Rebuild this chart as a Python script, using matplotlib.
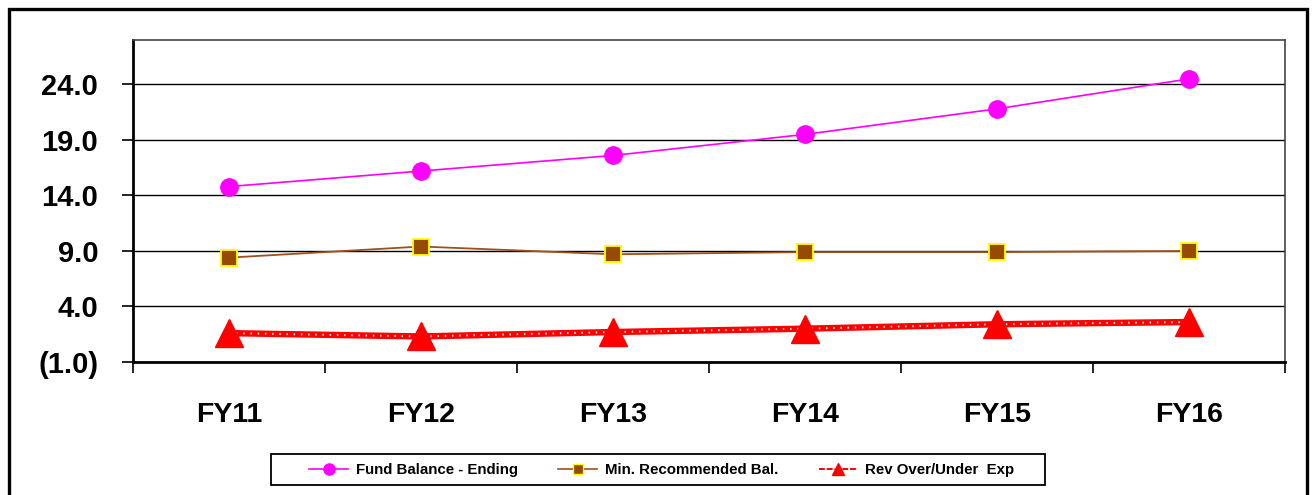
import matplotlib
matplotlib.use("Agg")
import matplotlib.pyplot as plt
from matplotlib.lines import Line2D
from matplotlib.patches import Rectangle
from matplotlib.ticker import FixedLocator, FuncFormatter

plt.rcParams['font.family'] = ['Liberation Sans', 'DejaVu Sans']
plt.rcParams['font.weight'] = 'bold'

# Fiscal years and series (in millions)
years = ["FY11", "FY12", "FY13", "FY14", "FY15", "FY16"]
fund_balance = [14.8, 16.2, 17.6, 19.5, 21.8, 24.5]
min_recommended = [8.4, 9.4, 8.7, 8.9, 8.9, 9.0]
rev_over_under = [1.6, 1.3, 1.7, 2.0, 2.4, 2.6]
y_ticks = [-1.0, 4.0, 9.0, 14.0, 19.0, 24.0]

W, H = 1312, 495
fig = plt.figure(figsize=(W / 100, H / 100), dpi=100)
fig.patch.set_facecolor('white')

# outer chart border
fig.patches.append(Rectangle((9 / W, -0.05), (1307 - 9) / W, 1.05 - 9 / H,
                             transform=fig.transFigure, fill=False,
                             edgecolor='black', linewidth=2.4, zorder=0))

ax = fig.add_axes([133 / W, 1 - 362 / H, (1285 - 133) / W, (362 - 40) / H])
x = list(range(len(years)))

# Fund balance
ax.plot(x, fund_balance, color='#FF00FF', lw=1.2, marker='o', ms=12.5,
        markerfacecolor='#FF00FF', markeredgecolor='#FF00FF', zorder=4)

# Minimum recommended balance
ax.plot(x, min_recommended, color='#A0501A', lw=1.3, marker='s', ms=11.5,
        markerfacecolor='#964B00', markeredgecolor='#FFFF00', mew=1.3, zorder=4)

# Revenue over/under expenditure: thick red line with white dots
ax.plot(x, rev_over_under, color='#FF0000', lw=4.6, solid_capstyle='butt', zorder=3)
ax.plot(x, rev_over_under, color='white', lw=1.4, linestyle=(0, (0.7, 3.0)),
        dash_capstyle='butt', zorder=3.5)
ax.plot(x, rev_over_under, linestyle='none', marker='^', ms=20,
        markerfacecolor='#FF0000', markeredgecolor='#FF0000', zorder=5)

ax.set_xlim(-0.5, len(years) - 0.5)
ax.set_ylim(-1.0, 28.0)

ax.yaxis.set_major_locator(FixedLocator(y_ticks))
ax.yaxis.set_major_formatter(FuncFormatter(
    lambda v, p: f"({abs(v):.1f})" if v < 0 else f"{v:.1f}"))
ax.grid(axis='y', color='black', lw=1.0, zorder=1)
ax.set_axisbelow(True)

ax.set_xticks(x)
ax.set_xticklabels(years)
ax.set_xticks([i - 0.5 for i in range(len(years) + 1)], minor=True)
ax.tick_params(axis='x', which='major', length=0, pad=29, labelsize=20.5)
ax.tick_params(axis='x', which='minor', length=8, width=1.2, direction='out')
ax.tick_params(axis='y', which='major', length=8, width=1.2, direction='out',
               pad=17, labelsize=21)
for lab in ax.get_xticklabels() + ax.get_yticklabels():
    lab.set_fontweight('bold')

for side in ('left', 'bottom'):
    ax.spines[side].set_linewidth(2.0)
    ax.spines[side].set_color('black')
for side in ('top', 'right'):
    ax.spines[side].set_linewidth(1.2)
    ax.spines[side].set_color('#444444')

handles = [
    Line2D([], [], color='#FF00FF', lw=1.2, marker='o', ms=8,
           markerfacecolor='#FF00FF', markeredgecolor='#FF00FF'),
    Line2D([], [], color='#A0501A', lw=1.2, marker='s', ms=7.5,
           markerfacecolor='#964B00', markeredgecolor='#FFFF00', mew=1.0),
    Line2D([], [], color='#FF0000', lw=1.4, linestyle=(0, (3, 1)), marker='^', ms=8,
           markerfacecolor='#FF0000', markeredgecolor='#FF0000'),
]
labels = ["Fund Balance - Ending", "Min. Recommended Bal.", "Rev Over/Under  Exp"]
leg = fig.legend(handles, labels, loc='center', ncol=3,
                 bbox_to_anchor=(662 / W, 1 - 470 / H),
                 prop={'family': 'Liberation Sans', 'weight': 'bold', 'size': 10.8},
                 frameon=False,
                 handlelength=2.6, handletextpad=0.5, columnspacing=2.7,
                 borderpad=0.3, borderaxespad=0)

# legend frame
fig.patches.append(Rectangle((271 / W, 1 - 485 / H), (1045 - 271) / W, 31 / H,
                             transform=fig.transFigure, fill=False,
                             edgecolor='black', linewidth=1.3, zorder=1))

fig.savefig('out.png', dpi=100, facecolor='white')
